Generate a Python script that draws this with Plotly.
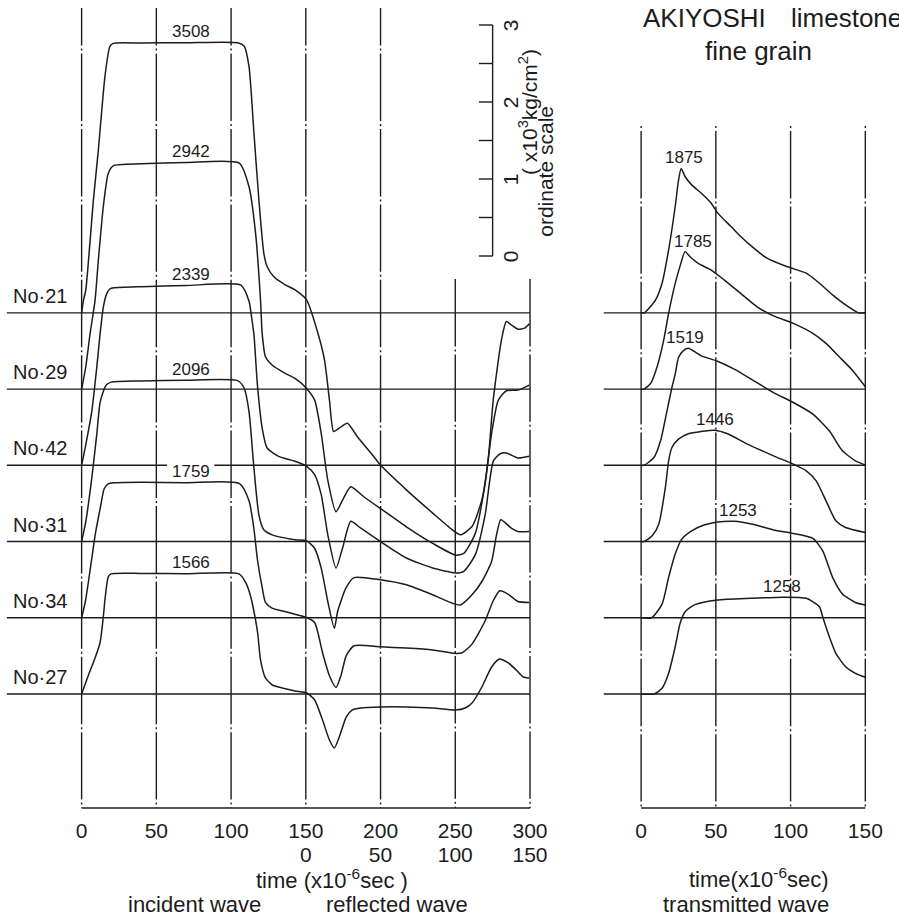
import plotly.graph_objects as go

# ---------------- data ----------------
specimens = ["No·21", "No·29", "No·42", "No·31", "No·34", "No·27"]
incident_peak = [3508, 2942, 2339, 2096, 1759, 1566]      # kg/cm2
transmitted_peak = [1875, 1785, 1519, 1446, 1253, 1258]   # kg/cm2

left_ticks = [0, 50, 100, 150, 200, 250, 300]       # time (1e-6 s), incident
reflected_ticks = [0, 50, 100, 150]                  # time (1e-6 s), reflected
right_ticks = [0, 50, 100, 150]                      # time (1e-6 s), transmitted
scale_ticks = [0, 1, 2, 3]                           # x10^3 kg/cm2

# incident + reflected wave: time (1e-6 s), stress (kg/cm2)
ir_t_21 = [0, 1.3, 2.8, 7.9, 11.2, 15.6, 18.9, 21.1, 40, 70, 104.4, 108.8, 112, 115.3, 118.6, 121.9,
           124.1, 128.5, 136.2, 142.8, 150.5, 158.1, 162.5, 165.8, 168.6, 172.4, 177.8, 184.4, 195.4,
           199.8, 217.3, 234.9, 248, 253.5, 261.2, 267.8, 272.2, 275.4, 280.9, 284.2, 287.5, 291.9,
           296.3, 299.5]
ir_s_21 = [0, 169, 299, 1468, 2117, 3069, 3459, 3500, 3505, 3508, 3508, 3463, 3199, 2334, 1468, 775,
           601, 471, 364, 299, 169, -264, -610, -1130, -1541, -1498, -1433, -1606, -1866,
           -1974, -2299, -2601, -2818, -2883, -2775, -2429, -1866, -1130, -351, -113, -156, -212,
           -199, -143]

ir_t_29 = [0, 2.8, 5.7, 9, 11.2, 14.5, 17.8, 21.1, 40, 70, 105.5, 112, 116.4, 119.7, 120.8, 123,
           127.4, 136.2, 142.8, 150.5, 155.9, 160.3, 164.7, 170.2, 174.6, 180.1, 188.8, 199.8, 217.3,
           234.9, 250.2, 255.7, 263.4, 270, 274.3, 278.8, 284.2, 291.9, 299.5]
ir_s_29 = [0, 290, 723, 1156, 1675, 2368, 2801, 2900, 2925, 2942, 2935, 2627, 2022, 1156, 723, 420,
           312, 204, 139, 9, -143, -575, -1182, -1593, -1442, -1268, -1398, -1550, -1788,
           -2004, -2156, -2134, -1874, -1225, -575, -143, -22, -13, 52]

ir_t_42 = [0, 2.8, 6.8, 10.1, 12.3, 14.5, 16.6, 18.9, 21.7, 40, 70, 106.6, 112, 113.8, 115.3, 117.6,
           120.8, 124.1, 131.8, 142.8, 150.5, 155.9, 160.3, 164.7, 170.2, 174.6, 180.1, 186.6, 199.8,
           217.3, 234.9, 250.2, 255.7, 263.4, 270, 275.4, 279.8, 284.2, 291.9, 299.5]
ir_s_42 = [0, 269, 701, 1264, 1697, 2050, 2220, 2290, 2305, 2320, 2335, 2339, 2130, 1913, 1697, 1048,
           485, 225, 117, 52, -13, -121, -381, -900, -1334, -1074, -727, -814, -987,
           -1204, -1334, -1398, -1377, -1160, -640, 52, 147, 160, 95, 117]

ir_t_31 = [0, 2.8, 6.8, 10.1, 12.3, 14.5, 16.6, 19.9, 40, 70, 104.4, 108.8, 112, 115.3, 118.6, 121.9,
           127.4, 142.8, 150.5, 155.9, 160.3, 164.7, 169.1, 171.3, 176.8, 182.2, 199.8, 217.3, 234.9,
           248, 253.5, 261.2, 267.8, 274.3, 277.6, 280.5, 287.5, 291.9, 299.5]
ir_s_31 = [0, 260, 824, 1386, 1800, 1950, 2035, 2070, 2085, 2096, 2090, 1991, 1688, 952, 347, 152,
           87, 22, 9, -87, -346, -779, -1126, -909, -606, -468, -497, -562, -692,
           -801, -823, -692, -519, -260, 87, 282, 173, 130, 130]

ir_t_34 = [0, 2.6, 5.9, 9.2, 12.5, 15.1, 17.8, 22.4, 40, 70, 105.5, 112, 115.3, 117.6, 120.8, 123,
           127.4, 138.4, 150.5, 155.9, 161.4, 165.8, 170.2, 173.5, 177, 182.2, 199.8, 217.3, 234.9,
           250.2, 254.6, 261.2, 270, 275.4, 279.8, 285.3, 291.9, 299.5]
ir_s_34 = [0, 221, 649, 1091, 1429, 1675, 1740, 1753, 1759, 1755, 1745, 1519, 1150, 760, 394, 199,
           125, 69, 4, -61, -471, -753, -905, -753, -494, -364, -377, -394, -419,
           -464, -455, -342, -39, 221, 351, 308, 212, 199]

ir_t_27 = [0, 4.6, 9, 12.3, 14.5, 15.6, 17.8, 19.7, 40, 70, 105.3, 109.9, 113.2, 115.1, 117.8, 119.7,
           123, 127.6, 134.2, 142.8, 150.7, 155.9, 161.2, 165.8, 169.1, 172.4, 177, 180.9, 186.8, 200,
           217, 234.9, 250, 256.6, 261.2, 267.8, 274.3, 279.6, 285.5, 290.8, 295.4, 299.3]
ir_s_27 = [0, 247, 468, 662, 1000, 1221, 1520, 1560, 1566, 1562, 1560, 1442, 1260, 1091, 792, 442,
           208, 117, 78, 39, 13, -78, -338, -597, -701, -558, -299, -208, -182, -169,
           -169, -182, -208, -182, -117, 91, 351, 455, 403, 312, 221, 208]

# transmitted wave: time (1e-6 s), stress (kg/cm2)
tr_t_21 = [0, 2, 5.3, 9.7, 14, 18.4, 22.8, 25, 26.8, 29.4, 33.8, 40.3, 46.9, 51.3, 60.1, 66.6, 75.4,
           84.2, 97.4, 110.5, 119.3, 128.1, 136.8, 145.6, 150]
tr_s_21 = [0, 0, 61, 169, 385, 818, 1381, 1720, 1875, 1771, 1662, 1554, 1424, 1295, 1121, 991, 840,
           710, 601, 515, 385, 234, 104, 0, 0]

tr_t_29 = [0, 2, 6.4, 10.7, 15.1, 18.4, 22.8, 26.1, 29.4, 32.7, 38.2, 46.9, 55.7, 66.6, 77.6, 88.6,
           101.8, 114.9, 123.7, 132.5, 141.2, 150]
tr_s_29 = [0, 0, 74, 290, 636, 983, 1372, 1600, 1785, 1718, 1632, 1545, 1416, 1243, 1069, 950,
           853, 723, 593, 420, 247, 30]

tr_t_42 = [0, 2, 8.6, 13, 17.3, 20.6, 22.8, 25, 28.3, 31.6, 40.3, 50.2, 62.3, 75.4, 88.6, 101.8,
           114.9, 125.9, 134.7, 143.4, 150]
tr_s_42 = [0, 0, 101, 318, 708, 1010, 1184, 1400, 1490, 1519, 1422, 1357, 1249, 1097, 945, 816,
           665, 448, 188, 58, 6]

tr_t_31 = [0, 2, 7.4, 11.8, 16.2, 18.4, 20.6, 25, 31.6, 40.3, 49.1, 57.9, 71.1, 88.6, 101.8, 110.5,
           117.1, 123.7, 130.3, 136.8, 150]
tr_s_31 = [0, 0, 74, 226, 701, 1048, 1221, 1330, 1400, 1430, 1446, 1400, 1265, 1113, 1005, 918,
           788, 529, 269, 182, 117]

tr_t_34 = [0, 7, 14, 18.4, 22.8, 27.2, 33.8, 42.6, 51.3, 62.3, 75.4, 88.6, 101.8, 114.9, 121.5,
           128.1, 134.7, 143.4, 150]
tr_s_34 = [0, 0, 178, 524, 827, 1022, 1130, 1208, 1245, 1253, 1210, 1140, 1095, 1030, 870,
           524, 308, 199, 165]

tr_t_27 = [0, 8.6, 14, 18.4, 22.8, 26.1, 29.4, 36, 51.3, 73.2, 95.2, 110.5, 119.3, 121.5, 125.9,
           130.3, 136.8, 143.4, 150]
tr_s_27 = [0, 0, 74, 269, 614, 918, 1069, 1160, 1221, 1243, 1258, 1243, 1134, 1000, 744,
           528, 355, 269, 217]

ir_t = [ir_t_21, ir_t_29, ir_t_42, ir_t_31, ir_t_34, ir_t_27]
ir_s = [ir_s_21, ir_s_29, ir_s_42, ir_s_31, ir_s_34, ir_s_27]
tr_t = [tr_t_21, tr_t_29, tr_t_42, tr_t_31, tr_t_34, tr_t_27]
tr_s = [tr_s_21, tr_s_29, tr_s_42, tr_s_31, tr_s_34, tr_s_27]

# ---------------- layout helpers ----------------
W, H = 899, 916
INK = "#1c1c1c"
FONT = "Liberation Sans, Arial, sans-serif"
LINE_W = 1.5


def vy(py):   # pixel row -> ordinate (10^3 kg/cm2, No.27 baseline = 0)
    return (694 - py) / 77.0


def lx(px):   # pixel column -> time on left panel
    return (px - 83) / 1.52


def rx(px):   # pixel column -> time on right panel
    return (px - 652) / 1.52


def px_x(px):
    return px / W


def px_y(py):
    return 1 - py / H


offsets = [4.95, 3.96, 2.97, 1.98, 0.99, 0.0]   # baseline of each record (10^3 kg/cm2 units)

GAP, DOT, PERIOD = 3.0, 2.0, 75.4


def dash_from(top_px):
    centers = [49.6 + PERIOD * k for k in range(14)]
    c = next(c for c in centers if c >= top_px)
    half = GAP + DOT / 2
    solid = PERIOD - 2 * GAP - DOT
    a = max(0.0, c - half - top_px)
    a = min(a, solid)
    return f"{a:.2f}px,{GAP}px,{DOT}px,{GAP}px,{solid - a:.2f}px,0px"


fig = go.Figure()

# curves
for i in range(6):
    fig.add_trace(go.Scatter(
        x=ir_t[i], y=[offsets[i] + s / 1000.0 for s in ir_s[i]],
        xaxis="x", yaxis="y", mode="lines", hoverinfo="skip",
        line=dict(color=INK, width=LINE_W, shape="spline", smoothing=0.6)))
    fig.add_trace(go.Scatter(
        x=tr_t[i], y=[offsets[i] + s / 1000.0 for s in tr_s[i]],
        xaxis="x2", yaxis="y", mode="lines", hoverinfo="skip",
        line=dict(color=INK, width=LINE_W, shape="spline", smoothing=0.6)))

# invisible trace so the reflected-time axis is drawn
fig.add_trace(go.Scatter(x=[0], y=[0], xaxis="x3", yaxis="y", mode="markers",
                         marker=dict(opacity=0), hoverinfo="skip"))

shapes = []
ybot = vy(808)
# vertical grid lines, left panel
for t in left_ticks:
    top = 8 if t <= 200 else 279
    shapes.append(dict(type="line", xref="x", yref="y", x0=t, x1=t, y0=vy(top), y1=ybot,
                       line=dict(color=INK, width=1.4, dash=dash_from(top))))
# vertical grid lines, right panel
for t in right_ticks:
    top = 123
    shapes.append(dict(type="line", xref="x2", yref="y", x0=t, x1=t, y0=vy(top), y1=ybot,
                       line=dict(color=INK, width=1.4, dash=dash_from(top))))
# bottom borders
shapes.append(dict(type="line", xref="x", yref="y", x0=0, x1=300, y0=ybot, y1=ybot,
                   line=dict(color=INK, width=1.5)))
shapes.append(dict(type="line", xref="x2", yref="y", x0=0, x1=150, y0=ybot, y1=ybot,
                   line=dict(color=INK, width=1.5)))
# baselines
for i, off in enumerate(offsets):
    if i == 2:   # broken where the "1759" label sits
        segs = [(-50, lx(170)), (lx(218), 300)]
    else:
        segs = [(-50, 300)]
    for a, b in segs:
        shapes.append(dict(type="line", xref="x", yref="y", x0=a, x1=b, y0=off, y1=off,
                           line=dict(color=INK, width=1.4)))
    shapes.append(dict(type="line", xref="x2", yref="y", x0=-25, x1=150, y0=off, y1=off,
                       line=dict(color=INK, width=1.4)))

# ordinate scale bar
sbase = vy(256)
sx = lx(501)
shapes.append(dict(type="line", xref="x", yref="y", x0=sx, x1=sx, y0=sbase, y1=sbase + 3,
                   line=dict(color=INK, width=1.4)))
for k in range(7):
    shapes.append(dict(type="line", xref="x", yref="y", x0=lx(487), x1=sx,
                       y0=sbase + 0.5 * k, y1=sbase + 0.5 * k, line=dict(color=INK, width=1.4)))

ann = []


def txt(text, x, y, size, xanchor="center", yanchor="middle", angle=0, xref="paper", yref="paper",
        yshift=0):
    ann.append(dict(text=text, x=x, y=y, xref=xref, yref=yref, showarrow=False, xanchor=xanchor,
                    yanchor=yanchor, textangle=angle, yshift=yshift,
                    font=dict(family=FONT, size=size, color=INK)))


for i, name in enumerate(specimens):
    txt(name, px_x(11), offsets[i], 20, xanchor="left", yref="y", yshift=17)
    txt(str(incident_peak[i]), 73, offsets[i] + incident_peak[i] / 1000.0, 17, xref="x", yref="y",
        yshift=11)

tr_label_t = [28.9, 34.9, 29.6, 49.3, 64.5, 94.1]
for i in range(6):
    txt(str(transmitted_peak[i]), tr_label_t[i], offsets[i] + transmitted_peak[i] / 1000.0, 17,
        xref="x2", yref="y", yshift=10.5)

for k in scale_ticks:
    txt(str(k), px_x(519), sbase + k, 21, angle=-90, yref="y")
txt("( x10<sup>3</sup>kg/cm<sup>2</sup>)", px_x(537), px_y(112), 21, angle=-90)
txt("ordinate scale", px_x(554), px_y(171), 21, angle=-90)

txt("AKIYOSHI", px_x(652), px_y(18), 26, xanchor="left")
txt("limestone", px_x(802), px_y(18), 26, xanchor="left")
txt("fine grain", px_x(771), px_y(51), 26)

txt("time (x10<sup>-6</sup>sec )", px_x(338), px_y(879), 22)
txt("incident wave", px_x(198), px_y(904), 22)
txt("reflected wave", px_x(404), px_y(904), 22)
txt("time(x10<sup>-6</sup>sec)", px_x(772), px_y(878), 22)
txt("transmitted wave", px_x(759), px_y(904), 22)

tickfont = dict(family=FONT, size=21, color=INK)
common_x = dict(showgrid=False, zeroline=False, showline=False, ticks="", tickmode="array",
                tickfont=tickfont, ticklabelstandoff=4, fixedrange=True)

fig.update_layout(
    width=W, height=H, margin=dict(l=0, r=0, t=0, b=0),
    paper_bgcolor="white", plot_bgcolor="white", showlegend=False,
    xaxis=dict(domain=[0, 542 / W], range=[lx(0), lx(542)], anchor="y",
               tickvals=left_ticks, ticktext=[str(v) for v in left_ticks], **common_x),
    xaxis2=dict(domain=[600 / W, 883 / W], range=[rx(600), rx(883)], anchor="y",
                tickvals=right_ticks, ticktext=[str(v) for v in right_ticks], **common_x),
    xaxis3=dict(overlaying="x", anchor="free", position=px_y(836),
                range=[lx(0) - 150, lx(542) - 150],
                tickvals=reflected_ticks, ticktext=[str(v) for v in reflected_ticks], **common_x),
    yaxis=dict(domain=[px_y(812), px_y(4)], range=[vy(812), vy(4)], showgrid=False,
               zeroline=False, showline=False, showticklabels=False, ticks="", fixedrange=True),
    shapes=shapes, annotations=ann,
)

fig.write_html("out.html")
